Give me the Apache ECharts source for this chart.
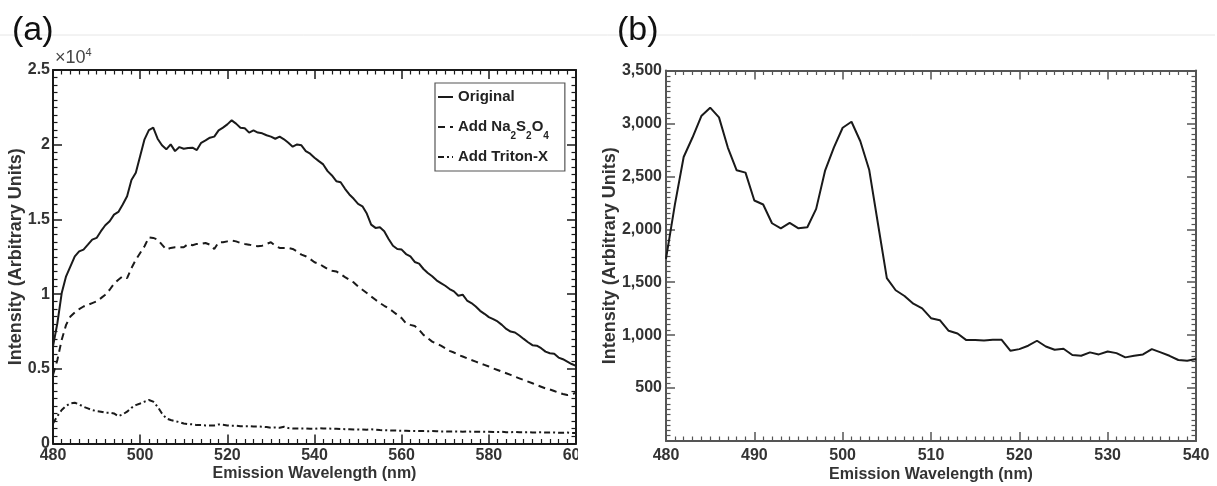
<!DOCTYPE html>
<html>
<head>
<meta charset="utf-8">
<script src="https://cdn.jsdelivr.net/npm/echarts@6/dist/echarts.min.js"></script>
<style>
html,body{margin:0;padding:0;background:#fff;}
#c{width:1217px;height:486px;}
</style>
</head>
<body>
<div id="c"></div>
<script>
// ---------- Panel (a) data (intensity in units of 10^4) ----------
const wavelengthA = [480,481,482,483,484,485,486,487,488,489,490,491,492,493,494,495,496,497,498,499,
  500,501,502,503,504,505,506,507,508,509,510,511,512,513,514,515,516,517,518,519,
  520,521,522,523,524,525,526,527,528,529,530,531,532,533,534,535,536,537,538,539,
  540,541,542,543,544,545,546,547,548,549,550,551,552,553,554,555,556,557,558,559,
  560,561,562,563,564,565,566,567,568,569,570,571,572,573,574,575,576,577,578,579,
  580,581,582,583,584,585,586,587,588,589,590,591,592,593,594,595,596,597,598,599,600];
const originalE4 = [0.650,0.805,1.007,1.119,1.186,1.253,1.286,1.298,1.331,1.365,1.376,1.421,1.461,1.488,1.532,1.550,1.600,1.655,1.763,1.812,
  1.924,2.036,2.098,2.114,2.040,1.996,1.969,2.002,1.957,1.984,1.973,1.978,1.980,1.964,2.013,2.029,2.047,2.054,2.096,2.114,
  2.136,2.163,2.141,2.114,2.110,2.081,2.096,2.081,2.076,2.063,2.054,2.040,2.054,2.036,2.013,1.987,2.002,1.996,1.957,1.940,
  1.913,1.890,1.868,1.823,1.794,1.756,1.749,1.705,1.667,1.638,1.604,1.588,1.539,1.465,1.443,1.447,1.421,1.369,1.324,1.302,
  1.298,1.268,1.253,1.215,1.204,1.168,1.141,1.119,1.092,1.074,1.056,1.034,1.018,0.989,0.996,0.957,0.940,0.917,0.888,0.868,
  0.846,0.832,0.817,0.794,0.767,0.749,0.743,0.723,0.700,0.678,0.658,0.655,0.638,0.615,0.604,0.600,0.575,0.564,0.548,0.532,0.519];
const na2s2o4E4 = [0.459,0.559,0.694,0.794,0.850,0.877,0.899,0.917,0.928,0.940,0.951,0.973,0.996,1.029,1.069,1.096,1.119,1.107,1.174,1.230,
  1.275,1.320,1.380,1.376,1.365,1.331,1.298,1.309,1.313,1.313,1.313,1.336,1.327,1.336,1.336,1.342,1.331,1.302,1.347,1.347,
  1.353,1.358,1.353,1.342,1.336,1.331,1.324,1.320,1.324,1.336,1.347,1.324,1.309,1.309,1.309,1.302,1.286,1.264,1.253,1.235,
  1.213,1.204,1.186,1.168,1.157,1.152,1.134,1.114,1.096,1.078,1.051,1.029,1.007,0.984,0.962,0.940,0.922,0.906,0.884,0.861,
  0.839,0.805,0.794,0.787,0.761,0.727,0.705,0.682,0.667,0.655,0.638,0.620,0.609,0.593,0.582,0.570,0.559,0.548,0.537,0.526,
  0.515,0.503,0.492,0.481,0.470,0.459,0.447,0.436,0.425,0.414,0.403,0.391,0.380,0.369,0.362,0.351,0.340,0.331,0.324,0.329,0.340];
const tritonE4 = [0.134,0.183,0.224,0.251,0.268,0.273,0.262,0.246,0.235,0.224,0.217,0.213,0.206,0.206,0.201,0.183,0.195,0.213,0.239,0.257,
  0.268,0.280,0.291,0.280,0.246,0.201,0.168,0.157,0.150,0.143,0.134,0.130,0.128,0.123,0.123,0.121,0.121,0.121,0.128,0.125,
  0.121,0.119,0.119,0.116,0.116,0.116,0.114,0.114,0.112,0.110,0.105,0.107,0.105,0.112,0.103,0.101,0.101,0.101,0.101,0.098,
  0.098,0.102,0.101,0.100,0.099,0.098,0.097,0.096,0.095,0.094,0.094,0.093,0.092,0.095,0.093,0.090,0.089,0.088,0.087,0.086,
  0.085,0.085,0.084,0.084,0.083,0.083,0.082,0.083,0.082,0.081,0.081,0.080,0.081,0.080,0.079,0.080,0.079,0.078,0.079,0.078,
  0.078,0.077,0.077,0.078,0.076,0.076,0.077,0.075,0.075,0.076,0.074,0.074,0.075,0.073,0.073,0.074,0.072,0.072,0.073,0.071,0.071];
const seriesNamesA = ['Original', 'Add Na2S2O4', 'Add Triton-X'];
const yTicksA = [0, 0.5, 1, 1.5, 2, 2.5];

// ---------- Panel (b) data ----------
const wavelengthB = [480,481,482,483,484,485,486,487,488,489,490,491,492,493,494,495,496,497,498,499,
  500,501,502,503,504,505,506,507,508,509,510,511,512,513,514,515,516,517,518,519,
  520,521,522,523,524,525,526,527,528,529,530,531,532,533,534,535,536,537,538,539,540];
const intensityB = [1720,2230,2683,2867,3070,3149,3057,2772,2557,2535,2272,2234,2057,2009,2060,2009,2019,2193,2551,2772,
  2959,3016,2832,2563,2050,1538,1424,1370,1297,1253,1160,1141,1041,1016,953,953,950,956,956,852,
  868,900,947,893,862,871,812,805,837,818,846,830,790,805,818,868,837,805,765,758,774];

const FONT = '"Liberation Sans", Arial, Helvetica, sans-serif';
const chart = echarts.init(document.getElementById('c'), null, {renderer: 'canvas'});

function pair(xs, ys) { return xs.map((x, i) => [x, ys[i]]); }

function frameAxis(base, pos, color, showLabel) {
  return Object.assign({
    type: 'value',
    position: pos,
    axisLine: {show: true, onZero: false, lineStyle: {color: color, width: 2}},
    axisTick: {show: true, inside: true, length: 9, lineStyle: {color: color, width: 1.5}},
    minorTick: {show: true, splitNumber: 10, length: 4.5, lineStyle: {color: color, width: 1.2}},
    splitLine: {show: false},
    axisLabel: {show: showLabel},
    nameMoveOverlap: false
  }, base);
}

const lblA = {show: true, fontFamily: FONT, fontWeight: 'bold', fontSize: 16, color: '#333'};

const option = {
  backgroundColor: '#fff',
  animation: false,
  grid: [
    {left: 53, top: 70, width: 523, height: 373.5, outerBoundsMode: 'none', containLabel: false},
    {left: 666, top: 70.5, width: 530, height: 370.5, outerBoundsMode: 'none', containLabel: false}
  ],
  xAxis: [
    frameAxis({gridIndex: 0, min: 480, max: 600, interval: 20,
      name: 'Emission Wavelength (nm)', nameLocation: 'middle', nameGap: 22,
      nameTextStyle: {fontFamily: FONT, fontWeight: 'bold', fontSize: 16, color: '#333'},
      axisLabel: Object.assign({margin: 4}, lblA)}, 'bottom', '#1a1a1a', true),
    frameAxis({gridIndex: 0, min: 480, max: 600, interval: 20}, 'top', '#1a1a1a', false),
    frameAxis({gridIndex: 1, min: 480, max: 540, interval: 10,
      name: 'Emission Wavelength (nm)', nameLocation: 'middle', nameGap: 26,
      nameTextStyle: {fontFamily: FONT, fontWeight: 'bold', fontSize: 16, color: '#333'},
      axisLabel: Object.assign({margin: 7}, lblA)}, 'bottom', '#555', true),
    frameAxis({gridIndex: 1, min: 480, max: 540, interval: 10}, 'top', '#555', false)
  ],
  yAxis: [
    frameAxis({gridIndex: 0, min: yTicksA[0], max: yTicksA[yTicksA.length - 1], interval: 0.5,
      name: 'Intensity (Arbitrary Units)', nameLocation: 'middle', nameGap: 28,
      nameTextStyle: {fontFamily: FONT, fontWeight: 'bold', fontSize: 18, color: '#333'},
      axisLabel: Object.assign({margin: 3, formatter: v => String(v)}, lblA)}, 'left', '#1a1a1a', true),
    frameAxis({gridIndex: 0, min: 0, max: 2.5, interval: 0.5}, 'right', '#1a1a1a', false),
    frameAxis({gridIndex: 1, min: 0, max: 3500, interval: 500,
      name: 'Intensity (Arbitrary Units)', nameLocation: 'middle', nameGap: 47,
      nameTextStyle: {fontFamily: FONT, fontWeight: 'bold', fontSize: 18, color: '#333'},
      axisLabel: Object.assign({margin: 4, formatter: v => v === 0 ? '' : v.toLocaleString('en-US')}, lblA)}, 'left', '#555', true),
    frameAxis({gridIndex: 1, min: 0, max: 3500, interval: 500}, 'right', '#555', false)
  ],
  legend: {
    show: true,
    data: seriesNamesA,
    orient: 'vertical',
    left: 435, top: 83,
    padding: [0, 16, 0, 2],
    itemWidth: 15, itemHeight: 10, itemGap: 2,
    borderColor: '#555', borderWidth: 1.2, borderRadius: 0,
    backgroundColor: '#fff',
    selectedMode: false,
    itemStyle: {color: 'rgba(0,0,0,0)', borderWidth: 0, opacity: 0},
    lineStyle: {width: 2},
    formatter: function (name) {
      if (name === 'Add Na2S2O4') return '{m|Add Na}{s|2}{m|S}{s|2}{m|O}{s|4}';
      return '{m|' + name + '}';
    },
    textStyle: {
      fontFamily: FONT, fontWeight: 'bold', fontSize: 15, color: '#222', lineHeight: 28,
      rich: {
        m: {fontFamily: FONT, fontWeight: 'bold', fontSize: 15, color: '#222', lineHeight: 28},
        s: {fontFamily: FONT, fontWeight: 'bold', fontSize: 10, color: '#222', lineHeight: 28, verticalAlign: 'bottom'}
      }
    }
  },
  series: [
    {name: seriesNamesA[0], type: 'line', xAxisIndex: 0, yAxisIndex: 0, data: pair(wavelengthA, originalE4),
      symbol: 'none', lineStyle: {color: '#1a1a1a', width: 2}, itemStyle: {color: '#1a1a1a'}},
    {name: seriesNamesA[1], type: 'line', xAxisIndex: 0, yAxisIndex: 0, data: pair(wavelengthA, na2s2o4E4),
      symbol: 'none', lineStyle: {color: '#1a1a1a', width: 2, type: [7, 5]}, itemStyle: {color: '#1a1a1a'}},
    {name: seriesNamesA[2], type: 'line', xAxisIndex: 0, yAxisIndex: 0, data: pair(wavelengthA, tritonE4),
      symbol: 'none', lineStyle: {color: '#1a1a1a', width: 2, type: [6, 3, 2, 3]}, itemStyle: {color: '#1a1a1a'}},
    {name: 'Panel b', type: 'line', xAxisIndex: 2, yAxisIndex: 2, data: pair(wavelengthB, intensityB),
      symbol: 'none', lineStyle: {color: '#1a1a1a', width: 2}, itemStyle: {color: '#1a1a1a'}}
  ],
  graphic: [
    {type: 'line', shape: {x1: 0, y1: 35, x2: 1215, y2: 35}, style: {stroke: '#e6e6e6', lineWidth: 1}, z: 0},
    {type: 'text', x: 12, y: 14, style: {text: '(a)', fontFamily: FONT, fontSize: 34, fill: '#111'}, z: 10},
    {type: 'text', x: 617, y: 14, style: {text: '(b)', fontFamily: FONT, fontSize: 34, fill: '#111'}, z: 10},
    {type: 'text', x: 55, y: 47, style: {
      text: '×10{sup|4}', fontFamily: FONT, fontSize: 18, lineHeight: 22, fill: '#444',
      rich: {sup: {fontFamily: FONT, fontSize: 11, lineHeight: 22, verticalAlign: 'top', fill: '#444'}}
    }, z: 10},
    {type: 'rect', shape: {x: 578, y: 446, width: 24, height: 22}, style: {fill: '#fff'}, z: 100}
  ]
};
chart.setOption(option);
</script>
</body>
</html>
